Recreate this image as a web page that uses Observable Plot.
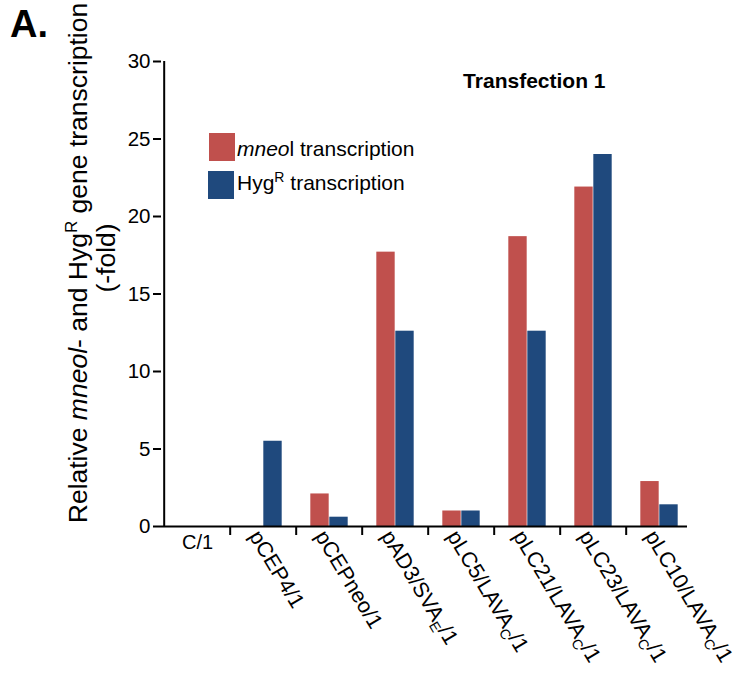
<!DOCTYPE html>
<html>
<head>
<meta charset="utf-8">
<script src="https://cdn.jsdelivr.net/npm/d3@7"></script>
<script src="https://cdn.jsdelivr.net/npm/@observablehq/plot@0.6"></script>
<style>
  html, body { margin: 0; padding: 0; background: #fff; }
  #chart { width: 733px; height: 674px; }
  #chart svg text { font-family: "Liberation Sans", Arial, sans-serif; }
  #chart g[aria-label="y-axis tick"] path { stroke-width: 2px; }
</style>
</head>
<body>
<div id="chart"></div>
<script>
// Constructs (transfection 1); "_X" marks a subscript letter in the name
const categories = ["C/1", "pCEP4/1", "pCEPneo/1", "pAD3/SVA_E/1", "pLC5/LAVA_C/1", "pLC21/LAVA_C/1", "pLC23/LAVA_C/1", "pLC10/LAVA_C/1"];
// Relative transcription (-fold)
const mneolValues = [0, 0, 2.1, 17.7, 1.0, 18.7, 21.9, 2.9];
const hygValues   = [0, 5.5, 0.6, 12.6, 1.0, 12.6, 24.0, 1.4];
const yTicks = [0, 5, 10, 15, 20, 25, 30];
const seriesColors = ["#c0504d", "#1f497d"];
const title = "Transfection 1";

const W = 733, H = 674;
const margin = {top: 61, right: 39, bottom: 148, left: 161};
const bw = (W - margin.left - margin.right) / categories.length; // band width
const barW = 19;

const rows = categories.map((c, i) => ({category: c, mneol: mneolValues[i], hyg: hygValues[i]}));

const plot = Plot.plot({
  width: W,
  height: H,
  marginTop: margin.top,
  marginRight: margin.right,
  marginBottom: margin.bottom,
  marginLeft: margin.left,
  style: {fontFamily: "Liberation Sans, Arial, sans-serif", fontSize: "20.5px", background: "#fff", color: "#000", overflow: "visible"},
  x: {domain: categories, axis: null, padding: 0},
  y: {domain: [0, 30], ticks: yTicks, tickSize: 8, tickPadding: 3, label: null},
  marks: [
    // paired bars: mneoI left of the band centre, HygR right of it
    Plot.barY(rows, {x: "category", y: "mneol", fill: seriesColors[0], insetLeft: bw / 2 - barW, insetRight: bw / 2}),
    Plot.barY(rows, {x: "category", y: "hyg", fill: seriesColors[1], insetLeft: bw / 2, insetRight: bw / 2 - barW}),
    // axis lines
    Plot.ruleY([0], {strokeWidth: 2, insetRight: 7}),
    Plot.ruleX(categories.slice(0, 1), {strokeWidth: 2, dx: -bw / 2}),
    // tick marks between categories
    Plot.ruleX(categories.slice(1), {y1: 0, y2: 0, insetBottom: -9, strokeWidth: 2, dx: -bw / 2}),
    // category labels
    Plot.text(categories.slice(0, 1), {x: d => d, frameAnchor: "bottom", lineAnchor: "top", dy: 8, fontSize: 20}),
    Plot.text(categories.slice(1), {x: d => d, frameAnchor: "bottom", rotate: 59, textAnchor: "start", lineAnchor: "middle", dx: -9, dy: 6, fontSize: 21.5}),
    // panel title
    Plot.text([title], {frameAnchor: "top-right", textAnchor: "end", lineAnchor: "bottom", dx: -89, dy: 26, fontSize: 21, fontWeight: "bold"})
  ]
});

document.getElementById("chart").appendChild(plot);
const svg = d3.select(plot);

// turn "_X" into a lowered, smaller letter
svg.selectAll("text").each(function () {
  const m = this.textContent.match(/^(.*)_([A-Z])(.*)$/);
  if (!m) return;
  const t = d3.select(this).text(null);
  t.append("tspan").text(m[1]);
  t.append("tspan").attr("font-size", "14px").attr("dy", 5).text(m[2]);
  t.append("tspan").attr("dy", -5).text(m[3]);
});

// y-axis title (two lines, italic gene name, superscript R)
const yTitle = svg.append("text")
  .attr("transform", "translate(87,263) rotate(-90)")
  .attr("text-anchor", "middle")
  .attr("font-size", 26.5)
  .attr("fill", "#000");
yTitle.append("tspan").text("Relative ");
yTitle.append("tspan").attr("font-style", "italic").text("mneol");
yTitle.append("tspan").text("- and Hyg");
yTitle.append("tspan").attr("font-size", 17).attr("dy", -10).text("R");
yTitle.append("tspan").attr("dy", 10).text(" gene transcription");
svg.append("text")
  .attr("transform", "translate(115,258) rotate(-90)")
  .attr("text-anchor", "middle")
  .attr("font-size", 26.5)
  .attr("fill", "#000")
  .text("(-fold)");

// legend
const legend = svg.append("g").attr("font-size", 21).attr("fill", "#000").attr("text-anchor", "start");
legend.append("rect").attr("x", 209).attr("y", 133).attr("width", 26).attr("height", 28).attr("fill", seriesColors[0]);
legend.append("rect").attr("x", 208).attr("y", 171).attr("width", 26).attr("height", 28).attr("fill", seriesColors[1]);
const l1 = legend.append("text").attr("x", 237).attr("y", 156);
l1.append("tspan").attr("font-style", "italic").text("mneo");
l1.append("tspan").text("l transcription");
const l2 = legend.append("text").attr("x", 237).attr("y", 190);
l2.append("tspan").text("Hyg");
l2.append("tspan").attr("font-size", 14).attr("dy", -8).text("R");
l2.append("tspan").attr("dy", 8).text(" transcription");

// panel letter
svg.append("text")
  .attr("x", 10).attr("y", 37)
  .attr("text-anchor", "start")
  .attr("font-size", 38).attr("font-weight", "bold").attr("fill", "#000")
  .text("A.");
</script>
</body>
</html>
